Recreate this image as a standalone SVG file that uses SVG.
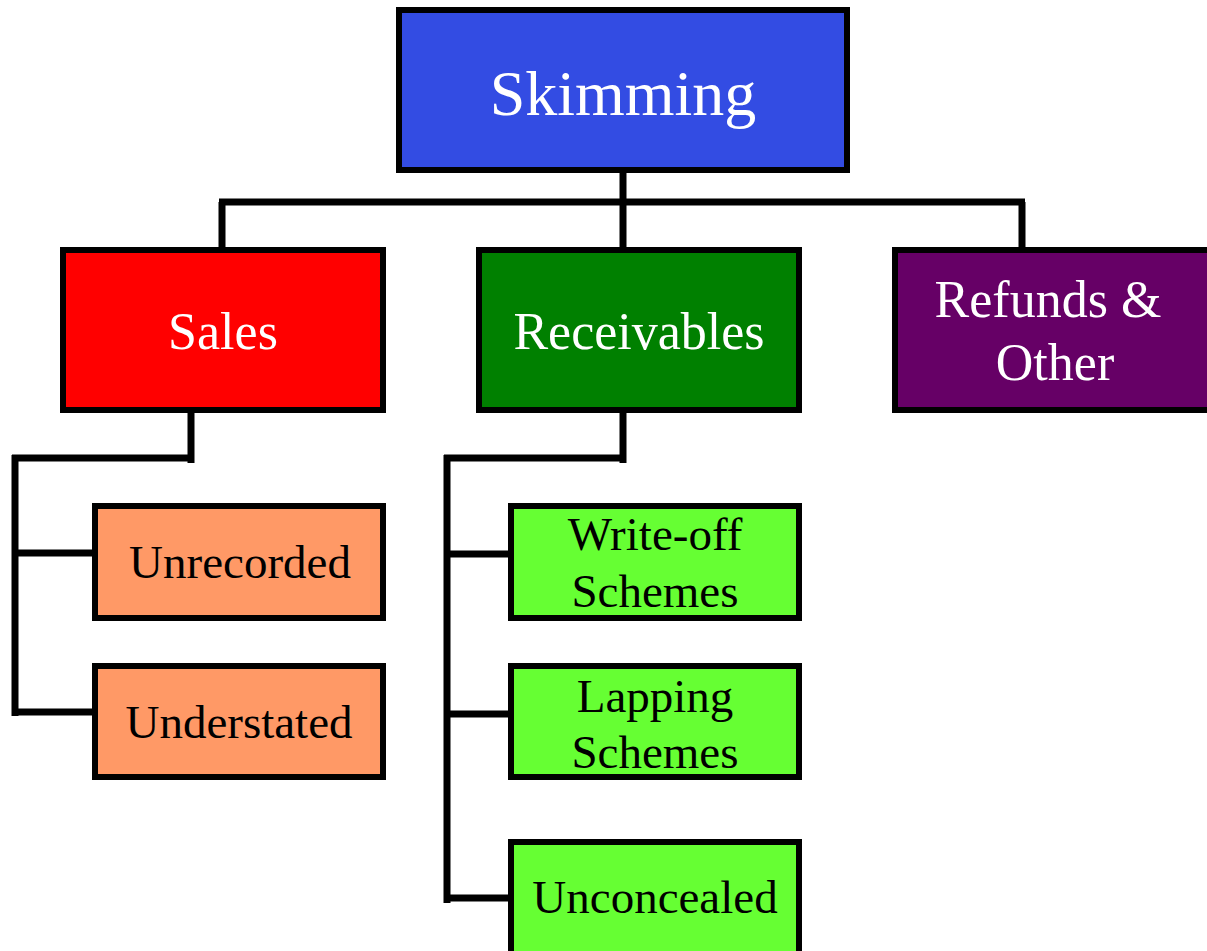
<svg xmlns="http://www.w3.org/2000/svg" width="1207" height="951" viewBox="0 0 1207 951">
<style>
.box{stroke:#000;stroke-width:6}
.conn{fill:none;stroke:#000;stroke-width:7;stroke-linejoin:miter}
text{font-family:"Liberation Serif","Times New Roman",serif;text-anchor:middle}
.w{fill:#fff}
.k{fill:#000}
</style>
<rect width="1207" height="951" fill="#fff"/>
<g id="connectors">
<path class="conn" d="M623 170V250M219 202H1025M222 202V250M1022 202V250"/>
<path class="conn" d="M191 410V463M191 458H12M15 455V716M15 553H95M15 712H95"/>
<path class="conn" d="M623 410V463M623 458H444M447 455V903M447 554H511M447 714H511M447 898H511"/>
</g>
<g id="skimming">
<rect class="box" x="399" y="10" width="448" height="160" fill="#334CE3"/>
<text class="w" x="623" y="115" font-size="64">Skimming</text>
</g>
<g id="sales">
<rect class="box" x="63" y="250" width="320" height="160" fill="#FF0000"/>
<text class="w" x="223" y="349" font-size="52">Sales</text>
</g>
<g id="receivables">
<rect class="box" x="479" y="250" width="320" height="160" fill="#008000"/>
<text class="w" x="639" y="349" font-size="52">Receivables</text>
</g>
<g id="refunds">
<rect class="box" x="895" y="250" width="318" height="160" fill="#660066"/>
<text class="w" x="1048" y="317" font-size="52">Refunds &amp;</text>
<text class="w" x="1055" y="380" font-size="52">Other</text>
</g>
<g id="unrecorded">
<rect class="box" x="95" y="506" width="288" height="112" fill="#FF9966"/>
<text class="k" x="240" y="578" font-size="47">Unrecorded</text>
</g>
<g id="understated">
<rect class="box" x="95" y="666" width="288" height="111" fill="#FF9966"/>
<text class="k" x="239" y="738" font-size="47">Understated</text>
</g>
<g id="writeoff">
<rect class="box" x="511" y="506" width="288" height="112" fill="#66FF33"/>
<text class="k" x="655" y="550" font-size="47">Write-off</text>
<text class="k" x="655" y="607" font-size="47">Schemes</text>
</g>
<g id="lapping">
<rect class="box" x="511" y="666" width="288" height="111" fill="#66FF33"/>
<text class="k" x="655" y="712" font-size="47">Lapping</text>
<text class="k" x="655" y="768" font-size="47">Schemes</text>
</g>
<g id="unconcealed">
<rect class="box" x="511" y="842" width="288" height="120" fill="#66FF33"/>
<text class="k" x="655" y="913" font-size="47">Unconcealed</text>
</g>
</svg>
